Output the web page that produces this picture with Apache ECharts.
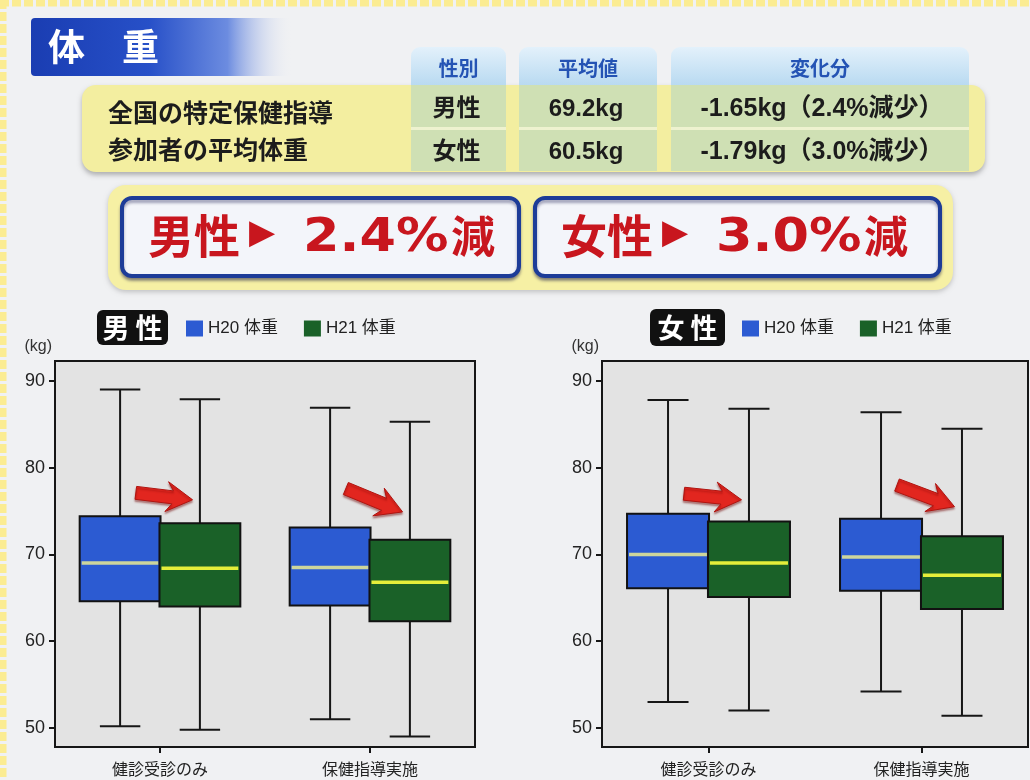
<!DOCTYPE html>
<html>
<head>
<meta charset="utf-8">
<script src="https://cdn.jsdelivr.net/npm/echarts@6/dist/echarts.min.js"></script>
<style>
  html, body { margin: 0; padding: 0; background: #f0f1f3; }
  #main { width: 1030px; height: 780px; }
</style>
</head>
<body>
<div id="main"></div>
<script>
// ---- data ----
const categories = ['健診受診のみ', '保健指導実施'];
const seriesNames = ['H20 体重', 'H21 体重'];
const yTicks = [50, 60, 70, 80, 90];

// each row: [min, Q1, median, Q3, max] in kg, one row per category
const maleH20 = [[50.2, 64.6, 69.0, 74.4, 89.0], [51.0, 64.1, 68.5, 73.1, 86.9]];
const maleH21 = [[49.8, 64.0, 68.4, 73.6, 87.9], [49.0, 62.3, 66.8, 71.7, 85.3]];
const femaleH20 = [[53.0, 66.1, 70.0, 74.7, 87.8], [54.2, 65.8, 69.7, 74.1, 86.4]];
const femaleH21 = [[52.0, 65.1, 69.0, 73.8, 86.8], [51.4, 63.7, 67.6, 72.1, 84.5]];

// trend arrows: [category index, kg at tail, kg at tip]
const maleArrows = [[0, 77.1, 76.3], [1, 77.6, 74.9]];
const femaleArrows = [[0, 77.0, 76.3], [1, 78.0, 75.5]];

// summary table
const pageTitle = '体　重';
const tableHeaders = ['性別', '平均値', '変化分'];
const tableRowTitle = ['全国の特定保健指導', '参加者の平均体重'];
const tableGender = ['男性', '女性'];
const tableMean = ['69.2kg', '60.5kg'];
const tableChange = ['-1.65kg（2.4%減少）', '-1.79kg（3.0%減少）'];
const summaryRates = ['2.4%', '3.0%'];
const chartTags = ['男 性', '女 性'];

// ---- styling ----
const CJK = '"Noto Sans CJK JP", sans-serif';
const LATIN = '"Liberation Sans", "Noto Sans CJK JP", sans-serif';
const RED = '#c8161e';
const BOX_COLORS = [
  { fill: '#2c5bd2', median: '#cdd59c' },
  { fill: '#1a6128', median: '#e4ee3a' }
];

function boxRender(offset, colors) {
  return function (params, api) {
    const cat = api.value(0);
    const bw = api.size([1, 0])[0];
    const cx = api.coord([cat, 0])[0] + offset * bw;
    const w = bw * 0.385;
    const cap = w * 0.5;
    const y = (i) => api.coord([cat, api.value(i)])[1];
    const yMin = y(1), yQ1 = y(2), yMed = y(3), yQ3 = y(4), yMax = y(5);
    const stroke = { stroke: '#161616', lineWidth: 2 };
    return {
      type: 'group',
      children: [
        { type: 'line', shape: { x1: cx, y1: yMax, x2: cx, y2: yMin }, style: stroke },
        { type: 'line', shape: { x1: cx - cap / 2, y1: yMax, x2: cx + cap / 2, y2: yMax }, style: stroke },
        { type: 'line', shape: { x1: cx - cap / 2, y1: yMin, x2: cx + cap / 2, y2: yMin }, style: stroke },
        { type: 'rect', shape: { x: cx - w / 2, y: yQ3, width: w, height: yQ1 - yQ3 },
          style: { fill: colors.fill, stroke: '#121212', lineWidth: 2 } },
        { type: 'line', shape: { x1: cx - w / 2 + 2, y1: yMed, x2: cx + w / 2 - 2, y2: yMed },
          style: { stroke: colors.median, lineWidth: 3.5 } }
      ]
    };
  };
}

function arrowRender(params, api) {
  const cat = api.value(0);
  const bw = api.size([1, 0])[0];
  const c = api.coord([cat, 0])[0];
  const x0 = c - 0.115 * bw, x1 = c + 0.155 * bw;
  const y0 = api.coord([cat, api.value(1)])[1];
  const y1 = api.coord([cat, api.value(2)])[1];
  const dx = x1 - x0, dy = y1 - y0, len = Math.sqrt(dx * dx + dy * dy);
  const ux = dx / len, uy = dy / len, nx = -uy, ny = ux;
  const hw = 6.5, hh = 15, hl = 20;
  const P = (a, b) => [x0 + ux * a + nx * b, y0 + uy * a + ny * b];
  const points = [
    P(0, -hw), P(len - hl, -hw), P(len - hl - 6, -hh), P(len, 0),
    P(len - hl - 6, hh), P(len - hl, hw), P(0, hw)
  ];
  return {
    type: 'polygon',
    shape: { points: points },
    style: {
      fill: '#e2261f',
      stroke: '#b01410', lineWidth: 1,
      shadowColor: 'rgba(110,0,0,0.45)', shadowBlur: 2, shadowOffsetY: 2
    }
  };
}

function yAxisFor(gridIndex) {
  return {
    gridIndex: gridIndex, type: 'value', min: 47.8, max: 92.3,
    name: '(kg)', nameLocation: 'end', nameGap: 6,
    nameTextStyle: { fontSize: 16, color: '#333', align: 'right', padding: [0, 3, 0, 0], fontFamily: LATIN },
    axisLine: { show: true, lineStyle: { color: '#161616', width: 2 } },
    axisTick: { show: true, length: 6, customValues: yTicks, lineStyle: { color: '#161616', width: 2 } },
    axisLabel: { customValues: yTicks, fontSize: 18, color: '#222', margin: 10, fontFamily: LATIN },
    splitLine: { show: false }
  };
}

function xAxisFor(gridIndex) {
  return {
    gridIndex: gridIndex, type: 'category', data: categories, boundaryGap: true,
    axisLine: { show: true, lineStyle: { color: '#161616', width: 2 } },
    axisTick: { show: true, alignWithLabel: true, length: 6, lineStyle: { color: '#161616', width: 2 } },
    axisLabel: { fontSize: 16, color: '#222', margin: 14, fontFamily: CJK },
    splitLine: { show: false }
  };
}

function boxSeries(name, rows, gridIndex, k) {
  return {
    name: name, type: 'custom',
    xAxisIndex: gridIndex, yAxisIndex: gridIndex,
    itemStyle: { color: BOX_COLORS[k].fill },
    renderItem: boxRender(k === 0 ? -0.19 : 0.19, BOX_COLORS[k]),
    encode: { x: 0, y: [1, 2, 3, 4, 5] },
    data: rows.map((r, i) => [i].concat(r)),
    z: 3, silent: true
  };
}

function arrowSeries(rows, gridIndex) {
  return {
    type: 'custom', xAxisIndex: gridIndex, yAxisIndex: gridIndex,
    renderItem: arrowRender, encode: { x: 0, y: [1, 2] },
    data: rows, z: 5, silent: true
  };
}

// ---- page furniture (header, table, summary boxes) ----
const graphics = [];

// dashed yellow frame
graphics.push({ type: 'line', shape: { x1: 0, y1: 3, x2: 1030, y2: 3 },
  style: { stroke: '#fbec92', lineWidth: 7, lineDash: [9, 3] }, z: 1 });
graphics.push({ type: 'line', shape: { x1: 3, y1: 0, x2: 3, y2: 780 },
  style: { stroke: '#fbec92', lineWidth: 7, lineDash: [9, 3] }, z: 1 });

// title bar
graphics.push({ type: 'rect', shape: { x: 31, y: 18, width: 262, height: 58, r: 4 },
  style: { fill: new echarts.graphic.LinearGradient(0, 0, 1, 0, [
    { offset: 0, color: '#1a3db2' }, { offset: 0.45, color: '#2750c8' },
    { offset: 0.75, color: '#6c8ce0' }, { offset: 1, color: 'rgba(241,242,244,0)' }]) }, z: 1 });
graphics.push({ type: 'text', x: 48, y: 47,
  style: { text: pageTitle, fill: '#ffffff', font: 'bold 37px ' + CJK, verticalAlign: 'middle' }, z: 2 });

// table band
const cols = [[411, 95], [519, 138], [671, 298]];
graphics.push({ type: 'rect', shape: { x: 82, y: 85, width: 903, height: 87, r: 14 },
  style: { fill: '#f3eea0', shadowColor: 'rgba(0,0,0,0.28)', shadowBlur: 5, shadowOffsetY: 3 }, z: 1 });
cols.forEach(function (c, i) {
  graphics.push({ type: 'rect', shape: { x: c[0], y: 47, width: c[1], height: 38, r: [9, 9, 0, 0] },
    style: { fill: new echarts.graphic.LinearGradient(0, 0, 0, 1, [
      { offset: 0, color: '#e3f1fb' }, { offset: 1, color: '#b9daf1' }]) }, z: 1 });
  graphics.push({ type: 'text', x: c[0] + c[1] / 2, y: 68,
    style: { text: tableHeaders[i], fill: '#2453b4', font: 'bold 20px ' + CJK, align: 'center', verticalAlign: 'middle' }, z: 2 });
  graphics.push({ type: 'rect', shape: { x: c[0], y: 85, width: c[1], height: 86 },
    style: { fill: '#cfe0b4' }, z: 2 });
  graphics.push({ type: 'line', shape: { x1: c[0], y1: 128.5, x2: c[0] + c[1], y2: 128.5 },
    style: { stroke: '#eef2cf', lineWidth: 3 }, z: 3 });
});
tableRowTitle.forEach(function (t, r) {
  graphics.push({ type: 'text', x: 108, y: r === 0 ? 112 : 149,
    style: { text: t, fill: '#1c1c1c', font: 'bold 25px ' + CJK, verticalAlign: 'middle' }, z: 3 });
});
[tableGender, tableMean, tableChange].forEach(function (colTexts, ci) {
  colTexts.forEach(function (t, r) {
    graphics.push({ type: 'text', x: cols[ci][0] + cols[ci][1] / 2 + (ci === 2 ? 2 : -2), y: r === 0 ? 109 : 152,
      style: { text: t, fill: '#1c1c1c', font: 'bold ' + (ci === 2 ? 25 : 24) + 'px ' + LATIN, align: 'center', verticalAlign: 'middle' }, z: 4 });
  });
});

// summary band with two callouts
graphics.push({ type: 'rect', shape: { x: 108, y: 185, width: 845, height: 105, r: 18 },
  style: { fill: '#f6f0a4', shadowColor: 'rgba(0,0,0,0.2)', shadowBlur: 5, shadowOffsetY: 2 }, z: 1 });
[[122, 397], [535, 405]].forEach(function (b, i) {
  const x0 = b[0] + 26;
  graphics.push({ type: 'rect', shape: { x: b[0], y: 198, width: b[1], height: 78, r: 10 },
    style: { fill: '#f3f5fa', stroke: '#1d3c98', lineWidth: 4,
      shadowColor: 'rgba(0,0,60,0.35)', shadowBlur: 3, shadowOffsetY: 3 }, z: 2 });
  graphics.push({ type: 'text', x: x0, y: 236,
    style: { text: tableGender[i], fill: RED, font: 'bold 46px ' + CJK, verticalAlign: 'middle' }, z: 3 });
  graphics.push({ type: 'text', x: x0 + 101, y: 234,
    style: { text: '▶', fill: RED, font: '34px "DejaVu Sans"', verticalAlign: 'middle' }, z: 3 });
  graphics.push({ type: 'text', x: x0 + 155, y: 239, scaleX: 1.14, originX: 0, originY: 0,
    style: { text: summaryRates[i], fill: RED, font: 'bold 46px "DejaVu Sans"', verticalAlign: 'middle' }, z: 3 });
  graphics.push({ type: 'text', x: x0 + 303, y: 236,
    style: { text: '減', fill: RED, font: 'bold 44px ' + CJK, verticalAlign: 'middle' }, z: 3 });
});

// chart tags
[[97, 310, 71, 35], [650, 309, 75, 37]].forEach(function (t, i) {
  graphics.push({ type: 'rect', shape: { x: t[0], y: t[1], width: t[2], height: t[3], r: 6 },
    style: { fill: '#111111' }, z: 2 });
  graphics.push({ type: 'text', x: t[0] + t[2] / 2, y: t[1] + t[3] / 2,
    style: { text: chartTags[i], fill: '#ffffff', font: 'bold 27px ' + CJK, align: 'center', verticalAlign: 'middle' }, z: 3 });
});

const legendBase = {
  orient: 'horizontal', icon: 'rect', itemWidth: 17, itemHeight: 16, itemGap: 26,
  padding: 0, selectedMode: false, data: seriesNames,
  textStyle: { fontSize: 17, color: '#222', fontFamily: LATIN }
};

const option = {
  backgroundColor: '#f0f1f3',
  animation: false,
  grid: [
    { left: 55, top: 361, width: 420, height: 386, show: true, backgroundColor: '#e3e3e3', borderColor: '#161616', borderWidth: 2 },
    { left: 602, top: 361, width: 426, height: 386, show: true, backgroundColor: '#e3e3e3', borderColor: '#161616', borderWidth: 2 }
  ],
  legend: [
    Object.assign({}, legendBase, { left: 186, top: 320 }),
    Object.assign({}, legendBase, { left: 742, top: 320 })
  ],
  xAxis: [xAxisFor(0), xAxisFor(1)],
  yAxis: [yAxisFor(0), yAxisFor(1)],
  series: [
    boxSeries(seriesNames[0], maleH20, 0, 0),
    boxSeries(seriesNames[1], maleH21, 0, 1),
    boxSeries(seriesNames[0], femaleH20, 1, 0),
    boxSeries(seriesNames[1], femaleH21, 1, 1),
    arrowSeries(maleArrows, 0),
    arrowSeries(femaleArrows, 1)
  ],
  graphic: graphics
};

const chart = echarts.init(document.getElementById('main'), null, { renderer: 'canvas' });
chart.setOption(option);
</script>
</body>
</html>
